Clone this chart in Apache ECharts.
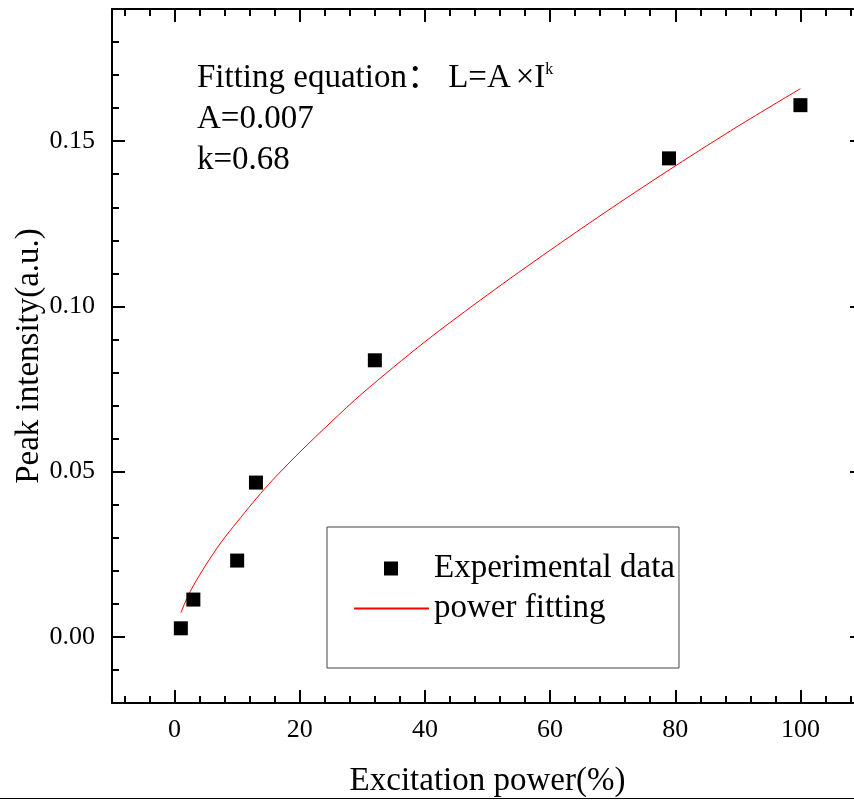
<!DOCTYPE html>
<html><head><meta charset="utf-8">
<script src="https://cdn.jsdelivr.net/npm/echarts@6/dist/echarts.min.js"></script>
<style>html,body{margin:0;padding:0;background:#fff}#c{width:854px;height:800px}</style>
</head><body><div id="c"></div>
<script>
// Experimental data
const expX = [1, 3, 10, 13, 32, 79, 100];
const expY = [0.0026, 0.0113, 0.0231, 0.0467, 0.0837, 0.1448, 0.1609];
// Power fitting curve
const fitX = [1, 2, 3, 5, 7.5, 10, 12.5, 15, 17.5, 20, 25, 30, 40, 50, 60, 70, 80, 90, 100];
const fitY = [0.0073, 0.0118, 0.0155, 0.0218, 0.0288, 0.0348, 0.0406, 0.0461, 0.0511, 0.0559, 0.0650, 0.0737, 0.0893, 0.1035, 0.1170, 0.1300, 0.1425, 0.1545, 0.1659];
// Tick values
const xMajor = [0, 20, 40, 60, 80, 100];
const xMinor = [-8, -4, 4, 8, 12, 16, 24, 28, 32, 36, 44, 48, 52, 56, 64, 68, 72, 76, 84, 88, 92, 96, 104, 108];
const yMajor = [0, 0.05, 0.10, 0.15];
const yMinor = [-0.01, 0.01, 0.02, 0.03, 0.04, 0.06, 0.07, 0.08, 0.09, 0.11, 0.12, 0.13, 0.14, 0.16, 0.17, 0.18];

const FONT = '"Liberation Serif", "Times New Roman", "Noto Sans CJK SC", serif';
const black = '#000';

function xAx(pos, ticks, len, major, labels) {
  return {
    type: 'value', position: pos, min: -10, max: 110,
    axisLine: { show: major, onZero: false, lineStyle: { color: black, width: 2 } },
    axisTick: { show: true, inside: true, length: len, customValues: ticks, lineStyle: { color: black, width: 2 } },
    axisLabel: labels ? { show: true, customValues: ticks, fontSize: 26, fontFamily: FONT, color: black, margin: 14 } : { show: false },
    splitLine: { show: false },
    name: labels ? 'Excitation power(%)' : '',
    nameLocation: 'middle', nameGap: 62,
    nameTextStyle: { fontSize: 33, fontFamily: FONT, color: black }
  };
}
function yAx(pos, ticks, len, major, labels) {
  return {
    type: 'value', position: pos, min: -0.02, max: 0.19,
    axisLine: { show: major, onZero: false, lineStyle: { color: black, width: 2 } },
    axisTick: { show: true, inside: true, length: len, customValues: ticks, lineStyle: { color: black, width: 2 } },
    axisLabel: labels ? { show: true, customValues: ticks, fontSize: 26, fontFamily: FONT, color: black, margin: 17,
      formatter: v => v.toFixed(2) } : { show: false },
    splitLine: { show: false },
    name: labels ? 'Peak intensity(a.u.)' : '',
    nameLocation: 'middle', nameGap: 66, nameMoveOverlap: false,
    nameTextStyle: { fontSize: 33, fontFamily: FONT, color: black }
  };
}

const chart = echarts.init(document.getElementById('c'), null, { renderer: 'canvas' });
chart.setOption({
  animation: false,
  backgroundColor: '#fff',
  grid: { left: 112, top: 9, right: -9, bottom: 97, outerBoundsMode: 'none', containLabel: false },
  xAxis: [
    xAx('bottom', xMajor, 13, true, true),
    xAx('bottom', xMinor, 7, false, false),
    xAx('top', xMajor, 13, true, false),
    xAx('top', xMinor, 7, false, false)
  ],
  yAxis: [
    yAx('left', yMajor, 13, true, true),
    yAx('left', yMinor, 7, false, false),
    yAx('right', yMajor, 13, true, false),
    yAx('right', yMinor, 7, false, false)
  ],
  legend: {
    orient: 'vertical', left: 327, top: 527,
    padding: [25, 4, 43, 26],
    itemWidth: 75, itemHeight: 14, itemGap: 7,
    borderColor: '#444', borderWidth: 1,
    textStyle: { fontSize: 33, fontFamily: FONT, color: black },
    data: [
      { name: 'Experimental data', icon: 'path://M0,0M75,14M30,0L44,0L44,14L30,14Z' },
      { name: 'power fitting', itemStyle: { opacity: 0 } }
    ]
  },
  series: [
    {
      name: 'Experimental data', type: 'scatter', symbol: 'rect', symbolSize: 14,
      itemStyle: { color: black, opacity: 1 },
      data: expX.map((x, i) => [x, expY[i]]), z: 3
    },
    {
      name: 'power fitting', type: 'line', smooth: 0.3, symbol: 'none',
      lineStyle: { color: '#ff0000', width: 1 }, itemStyle: { color: '#ff0000' },
      data: fitX.map((x, i) => [x, fitY[i]]), z: 2
    }
  ],
  graphic: [
    { type: 'text', left: 197, top: 62, style: {
        text: '{a|Fitting equation： L=A}{m|×}{a|I}{s|k}',
        rich: {
          a: { fontSize: 33, fontFamily: FONT, fill: black },
          m: { fontSize: 33, fontFamily: FONT, fill: black, padding: [0, 0, 0, 5] },
          s: { fontSize: 16, fontFamily: FONT, fill: black, verticalAlign: 'top' }
        } } },
    { type: 'text', left: 197, top: 103, style: { text: 'A=0.007', fontSize: 33, fontFamily: FONT, fill: black } },
    { type: 'text', left: 197, top: 144, style: { text: 'k=0.68', fontSize: 33, fontFamily: FONT, fill: black } },
    { type: 'line', shape: { x1: 0, y1: 798.5, x2: 854, y2: 798.5 }, style: { stroke: black, lineWidth: 1 } }
  ]
});
</script>
</body></html>
